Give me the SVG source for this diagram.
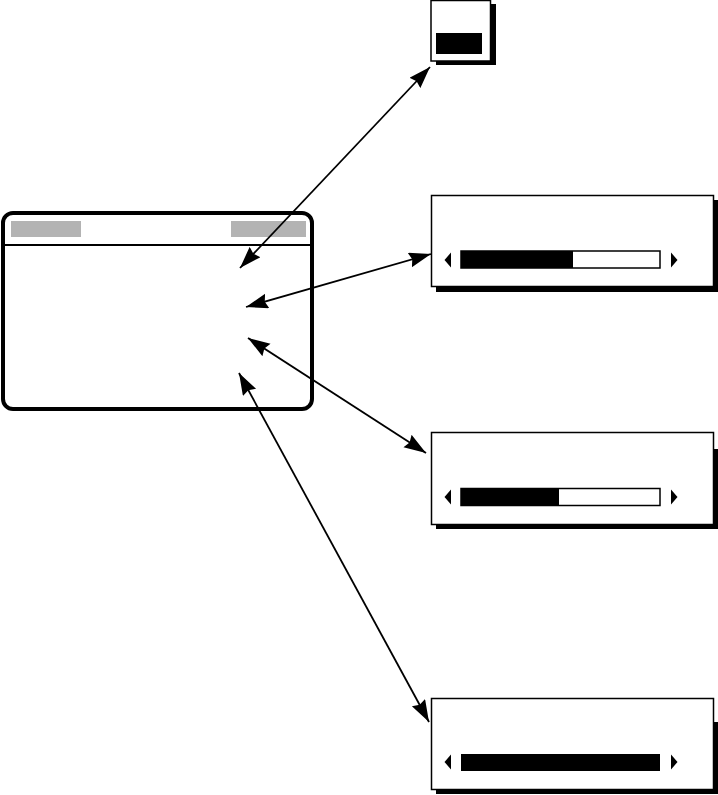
<svg xmlns="http://www.w3.org/2000/svg" width="718" height="795" viewBox="0 0 718 795">
<style>
.front{fill:#fff;stroke:#000;stroke-width:1.5}
.shadow{fill:#000}
.bar{fill:#fff;stroke:#000;stroke-width:1.5}
.fill{fill:#000}
.gray{fill:#b3b3b3}
.conn{stroke:#000;stroke-width:1.8;fill:none;marker-start:url(#ah);marker-end:url(#ah)}
</style>
<defs>
<marker id="ah" markerUnits="userSpaceOnUse" markerWidth="24" markerHeight="16" refX="22" refY="7.5" orient="auto-start-reverse" viewBox="0 0 24 16">
<path d="M0,0 L22,7.5 L0,15 L2.5,7.5 z" fill="#000"/>
</marker>
</defs>
<rect width="718" height="795" fill="#fff"/>

<g id="popup">
<rect class="shadow" x="436" y="4" width="60" height="61"/>
<rect class="front" x="431" y="0.5" width="59.5" height="60.5"/>
<rect class="fill" x="436" y="33" width="46" height="21"/>
</g>

<g id="screen">
<rect x="3" y="213" width="309" height="196" rx="10" fill="#fff" stroke="#000" stroke-width="4"/>
<line x1="3" y1="245" x2="312" y2="245" stroke="#000" stroke-width="2"/>
<rect class="gray" x="11" y="221" width="70" height="16"/>
<rect class="gray" x="231" y="221" width="75" height="16"/>
</g>

<g id="panel1">
<rect class="shadow" x="436" y="200" width="282" height="92"/>
<rect class="front" x="431.5" y="195.5" width="282" height="91"/>
<polygon points="444.5,260 451,252.5 451,267.5"/>
<rect class="bar" x="461" y="251" width="199" height="17"/>
<rect class="fill" x="461" y="251" width="112" height="17"/>
<polygon points="671,252.5 671,267.5 677.5,260"/>
</g>

<g id="panel2">
<rect class="shadow" x="436" y="449" width="282" height="80"/>
<rect class="front" x="431.5" y="432.5" width="282" height="92"/>
<polygon points="444.5,497 451,489.5 451,504.5"/>
<rect class="bar" x="461" y="488.5" width="199" height="17"/>
<rect class="fill" x="461" y="488.5" width="98" height="17"/>
<polygon points="671,489.5 671,504.5 677.5,497"/>
</g>

<g id="panel3">
<rect class="shadow" x="436" y="722" width="282" height="72"/>
<rect class="front" x="431.5" y="698.5" width="282" height="91"/>
<polygon points="444.5,762 451,754.5 451,769.5"/>
<rect class="fill" x="461" y="754" width="199" height="17"/>
<polygon points="671,754.5 671,769.5 677.5,762"/>
</g>

<g id="connectors">
<line class="conn" x1="430" y1="67" x2="240" y2="268"/>
<line class="conn" x1="431" y1="254" x2="246" y2="307"/>
<line class="conn" x1="248" y1="338" x2="426" y2="453"/>
<line class="conn" x1="239" y1="373" x2="429" y2="722"/>
</g>
</svg>
